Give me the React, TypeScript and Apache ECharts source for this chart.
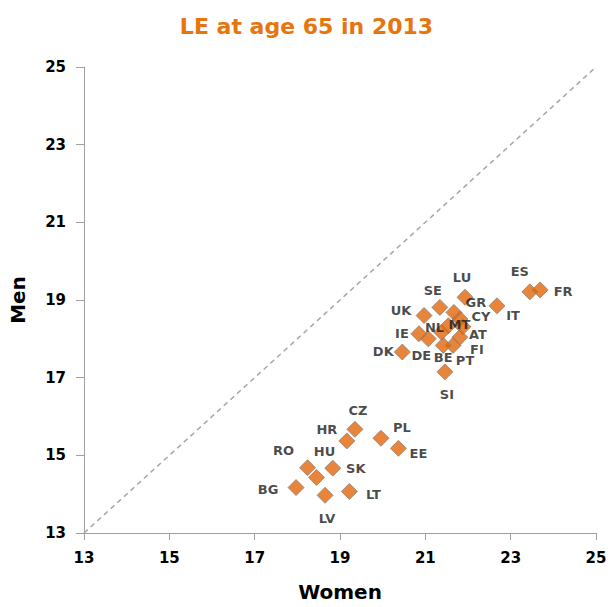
import React, { useEffect, useRef } from "react";
import * as echarts from "echarts";

const countries = ["ES", "FR", "IT", "LU", "GR", "SE", "UK", "IE", "DK", "DE", "NL", "MT", "CY", "AT", "FI", "PT", "BE", "SI", "CZ", "HR", "PL", "EE", "RO", "HU", "SK", "BG", "LV", "LT"];
const women = [23.45, 23.69, 22.68, 21.93, 21.67, 21.34, 20.97, 20.85, 20.46, 21.07, 21.38, 21.54, 21.81, 21.88, 21.81, 21.65, 21.42, 21.46, 19.35, 19.16, 19.96, 20.37, 18.24, 18.45, 18.83, 17.97, 18.65, 19.22];
const men = [19.21, 19.26, 18.85, 19.07, 18.68, 18.81, 18.6, 18.13, 17.66, 18.0, 18.17, 18.34, 18.51, 18.31, 18.04, 17.83, 17.83, 17.15, 15.67, 15.37, 15.44, 15.18, 14.68, 14.43, 14.67, 14.17, 13.97, 14.07];
const labelOffsets: number[][] = [[-10, -20], [23, 2], [16, 10], [-3, -20], [22, -10], [-7, -17], [-23, -5], [-17, 0], [-19, -1], [-7, 17], [-7, -5], [11, -1], [21, -3], [15, 8], [17, 12], [12, 15], [0, 12], [2, 23], [3, -19], [-20, -11], [21, -11], [20, 5], [-24, -17], [8, -26], [23, 0], [-28, 2], [2, 23], [24, 3]];
const diagonal = [[13, 13], [25, 25]];

const FONT = "DejaVu Sans";

export default function App() {
  const ref = useRef<HTMLDivElement>(null);
  useEffect(() => {
    if (!ref.current) return;
    const chart = echarts.init(ref.current, null, { renderer: "svg" });
    const data = countries.map((c, i) => ({
      name: c,
      value: [women[i], men[i]],
      label: { offset: labelOffsets[i] },
    }));
    chart.setOption({
      animation: false,
      backgroundColor: "#ffffff",
      title: {
        text: "LE at age 65 in 2013",
        left: "center",
        top: 10,
        textStyle: { color: "#E8740C", fontSize: 22, fontWeight: "bold", fontFamily: FONT },
      },
      grid: { left: 84, right: 17, top: 67, bottom: 72 },
      xAxis: {
        type: "value",
        min: 13,
        max: 25,
        interval: 2,
        name: "Women",
        nameLocation: "middle",
        nameGap: 49,
        nameTextStyle: { color: "#000", fontSize: 20, fontWeight: "bold", fontFamily: FONT },
        axisLine: { show: true, lineStyle: { color: "#A0A0A0", width: 1 } },
        axisTick: { show: true, length: 7, lineStyle: { color: "#A0A0A0" } },
        splitLine: { show: false },
        axisLabel: { margin: 17, color: "#000", fontSize: 15, fontWeight: "bold", fontFamily: FONT },
      },
      yAxis: {
        type: "value",
        min: 13,
        max: 25,
        interval: 2,
        name: "Men",
        nameLocation: "middle",
        nameRotate: 90,
        nameGap: 56,
        nameTextStyle: { color: "#000", fontSize: 20, fontWeight: "bold", fontFamily: FONT },
        axisLine: { show: true, lineStyle: { color: "#A0A0A0", width: 1 } },
        axisTick: { show: true, length: 8, lineStyle: { color: "#A0A0A0" } },
        splitLine: { show: false },
        axisLabel: { margin: 18, color: "#000", fontSize: 15, fontWeight: "bold", fontFamily: FONT },
      },
      series: [
        {
          type: "line",
          data: diagonal,
          showSymbol: false,
          silent: true,
          z: 1,
          lineStyle: { color: "#A6A6A6", width: 1.5, type: [5, 4] },
        },
        {
          type: "scatter",
          data,
          symbol: "diamond",
          symbolSize: 16,
          z: 3,
          itemStyle: { color: "#E2670A", borderColor: "#8f8178", borderWidth: 1 },
          label: {
            show: true,
            position: "inside",
            formatter: "{b}",
            color: "#1A1A1A",
            fontSize: 13,
            fontWeight: "bold",
            fontFamily: FONT,
          },
        },
      ],
    });
    return () => chart.dispose();
  }, []);
  return <div ref={ref} style={{ position: "fixed", left: 0, top: 0, width: 613, height: 607 }} />;
}
